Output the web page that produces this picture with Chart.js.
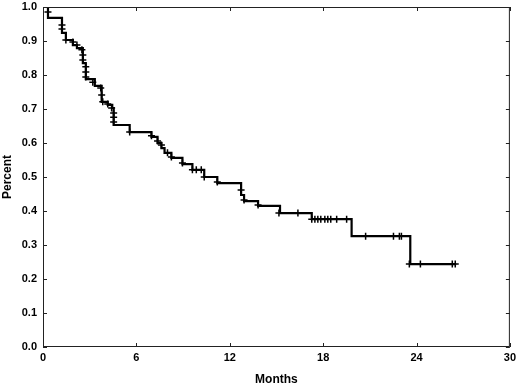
<!DOCTYPE html>
<html>
<head>
<meta charset="utf-8">
<script src="https://cdn.jsdelivr.net/npm/chart.js@4/dist/chart.umd.min.js"></script>
<style>
  html, body { margin: 0; padding: 0; background: #fff; }
  #wrap { width: 520px; height: 387px; }
</style>
</head>
<body>
<div id="wrap"><canvas id="c" width="520" height="387"></canvas></div>
<script>
// Kaplan-Meier step curve: event times (months) and survival after each step
const eventMonths = [0, 0.32, 1.22, 1.47, 1.92, 2.18, 2.56, 2.75, 3.33, 3.77, 4.16, 4.45, 4.54, 5.57, 6.97, 7.36, 7.61, 7.81, 8.25, 8.96, 9.6, 10.36, 11.2, 12.73, 12.92, 13.82, 15.23, 17.27, 19.83, 23.6, 26.55];
const survival =    [1.0, 0.968, 0.924, 0.903, 0.888, 0.879, 0.835, 0.788, 0.768, 0.721, 0.712, 0.703, 0.653, 0.632, 0.618, 0.60, 0.585, 0.571, 0.556, 0.538, 0.521, 0.50, 0.482, 0.447, 0.429, 0.415, 0.394, 0.376, 0.326, 0.244, 0.244];

// Censored observations (tick marks)
const censorMonths = [0.32, 1.22, 1.22, 1.47, 1.92, 2.18, 2.50, 2.56, 2.56, 2.75, 2.75, 2.75, 3.20, 3.71, 3.77, 3.84, 4.16, 4.41, 4.54, 4.54, 4.54, 5.57, 6.97, 7.36, 7.61, 8.0, 8.25, 8.96, 9.6, 9.85, 10.17, 10.36, 11.2, 12.73, 12.92, 13.82, 15.16, 16.38, 17.27, 17.47, 17.66, 17.85, 18.11, 18.3, 18.49, 18.87, 19.51, 20.73, 22.52, 22.9, 23.03, 23.54, 24.25, 26.3, 26.49];
const censorSurv =   [0.985, 0.947, 0.935, 0.903, 0.897, 0.888, 0.874, 0.859, 0.844, 0.824, 0.809, 0.794, 0.779, 0.762, 0.741, 0.721, 0.715, 0.703, 0.688, 0.676, 0.662, 0.632, 0.621, 0.606, 0.594, 0.571, 0.559, 0.541, 0.521, 0.521, 0.521, 0.50, 0.485, 0.462, 0.432, 0.418, 0.394, 0.394, 0.376, 0.376, 0.376, 0.376, 0.376, 0.376, 0.376, 0.376, 0.376, 0.326, 0.326, 0.326, 0.326, 0.244, 0.244, 0.244, 0.244];

const xTicks = [0, 6, 12, 18, 24, 30];
const yTicks = [0, 0.1, 0.2, 0.3, 0.4, 0.5, 0.6, 0.7, 0.8, 0.9, 1.0];
const xTitle = 'Months';
const yTitle = 'Percent';

const FONT = '"Liberation Sans", Arial, sans-serif';

const frame = {
  id: 'frame',
  afterDatasetsDraw(chart) {
    const { ctx, chartArea: a, scales } = chart;
    ctx.save();
    ctx.strokeStyle = '#222';
    ctx.lineWidth = 1;
    ctx.strokeRect(a.left + 0.5, a.top + 0.5, a.right - a.left - 1, a.bottom - a.top - 1);
    ctx.beginPath();
    const L = 4;
    xTicks.forEach(v => {
      const px = Math.round(scales.x.getPixelForValue(v)) + 0.5;
      ctx.moveTo(px, a.bottom); ctx.lineTo(px, a.bottom - L);
      ctx.moveTo(px, a.top); ctx.lineTo(px, a.top + L);
    });
    yTicks.forEach(v => {
      const py = Math.round(scales.y.getPixelForValue(v)) + 0.5;
      ctx.moveTo(a.left, py); ctx.lineTo(a.left + L, py);
      ctx.moveTo(a.right, py); ctx.lineTo(a.right - L, py);
    });
    ctx.stroke();
    ctx.restore();
  }
};

new Chart(document.getElementById('c'), {
  type: 'line',
  data: {
    datasets: [
      {
        label: 'Survival',
        data: eventMonths.map((m, i) => ({ x: m, y: survival[i] })),
        stepped: 'before',
        borderColor: '#000',
        borderWidth: 2.2,
        pointRadius: 0,
        fill: false
      },
      {
        type: 'scatter',
        label: 'Censored',
        data: censorMonths.map((m, i) => ({ x: m, y: censorSurv[i] })),
        pointStyle: 'cross',
        pointRadius: 3.5,
        borderColor: '#000',
        backgroundColor: '#000',
        pointBorderWidth: 1.5,
        showLine: false
      }
    ]
  },
  options: {
    responsive: false,
    animation: false,
    layout: { padding: { top: 7, right: 7, left: 0, bottom: 0 } },
    plugins: { legend: { display: false }, tooltip: { enabled: false } },
    scales: {
      x: {
        type: 'linear',
        min: 0, max: 30,
        afterBuildTicks: s => { s.ticks = xTicks.map(v => ({ value: v })); },
        afterFit: s => { s.height = 40; },
        grid: { display: false, drawTicks: false },
        border: { display: false },
        ticks: { color: '#000', font: { family: FONT, size: 11, weight: 'bold' }, padding: 4, maxRotation: 0 },
        title: { display: true, text: xTitle, color: '#000', font: { family: FONT, size: 12, weight: 'bold' }, padding: { top: 4, bottom: 0 } }
      },
      y: {
        type: 'linear',
        min: 0, max: 1,
        afterBuildTicks: s => { s.ticks = yTicks.map(v => ({ value: v })); },
        afterFit: s => { s.width = 43; s.paddingTop = 0; s.paddingBottom = 0; },
        grid: { display: false, drawTicks: false },
        border: { display: false },
        ticks: { color: '#000', font: { family: FONT, size: 11, weight: 'bold' }, padding: 6, callback: v => v.toFixed(1) },
        title: { display: true, text: yTitle, color: '#000', font: { family: FONT, size: 12, weight: 'bold' }, padding: { top: 0, bottom: 2 } }
      }
    }
  },
  plugins: [frame]
});
</script>
</body>
</html>
